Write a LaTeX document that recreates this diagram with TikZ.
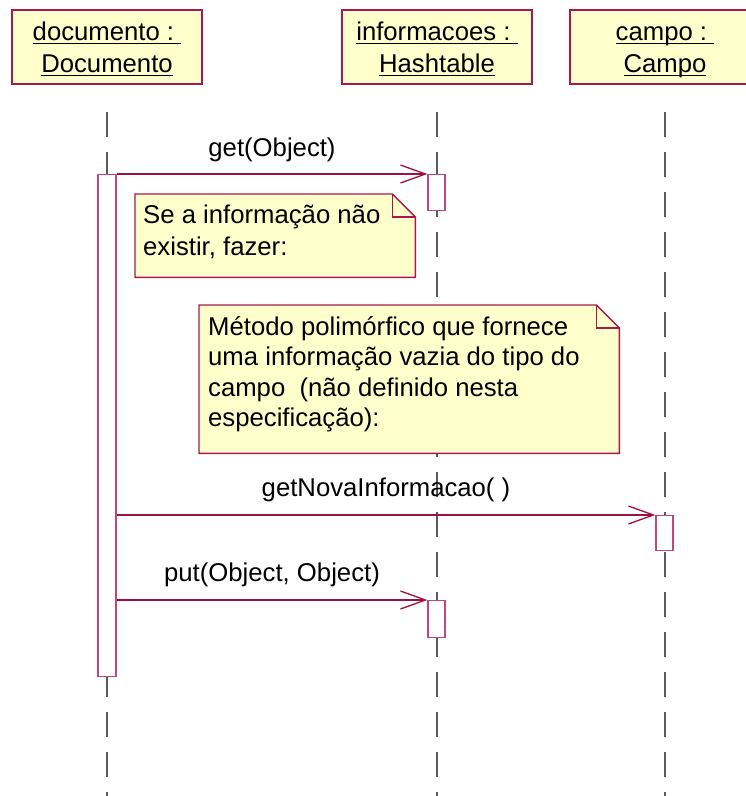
\documentclass[tikz,border=0pt]{standalone}
\usepackage{fontspec}
\setmainfont{Liberation Sans}
\usetikzlibrary{arrows.meta}
\definecolor{boxfill}{HTML}{FFFFCC}
\definecolor{boxline}{HTML}{A8184C}
\definecolor{msgline}{HTML}{A0103C}
\definecolor{actline}{HTML}{C04878}
\definecolor{lifeline}{HTML}{5A5A5A}
\newlength\ulwd
\newcommand\ulx[1]{\settowidth\ulwd{#1}\rlap{#1}\rule[-4pt]{\ulwd}{1.4pt}}
\begin{document}
\begin{tikzpicture}[x=1pt,y=-1pt,
  txt/.style={font=\fontsize{25.7}{31}\selectfont, inner sep=0pt},
  objbox/.style={draw=boxline, fill=boxfill, line width=1.4pt, minimum width=190pt, minimum height=74pt, inner sep=0pt},
  life/.style={draw=lifeline, line width=1.3pt, dash pattern=on 25pt off 15pt},
  act/.style={draw=actline, fill=white, line width=1.3pt, minimum width=17pt, inner sep=0pt, anchor=north},
  msg/.style={draw=msgline, line width=1.3pt, -{Straight Barb[length=25pt,width=18pt]}},
  notebox/.style={inner sep=0pt, anchor=north west},
  notepath/.style={draw=boxline, fill=boxfill, line width=1.4pt},
  fold/.style={draw=boxline, line width=1.4pt},
]
\useasboundingbox (0,0) rectangle (746,796);
\begin{scope}
\clip (0,0) rectangle (746,796);
% object boxes
\node[objbox] (doc) at (107,47) {};
\node[objbox] (inf) at (437,47) {};
\node[objbox] (cam) at (665,47) {};
\node[txt, anchor=base] (docA) at (107,40) {\ulx{documento :\ }};
\node[txt, anchor=base] (docB) at (107,72) {\ulx{Documento}};
\node[txt, anchor=base] (infA) at (437,40) {\ulx{informacoes :\ }};
\node[txt, anchor=base] (infB) at (437,72) {\ulx{Hashtable}};
\node[txt, anchor=base] (camA) at (665,40) {\ulx{campo :\ }};
\node[txt, anchor=base] (camB) at (665,72) {\ulx{Campo}};
% lifelines
\coordinate (docS) at (107,112); \coordinate (docE) at (107,796);
\coordinate (infS) at (437,112); \coordinate (infE) at (437,796);
\coordinate (camS) at (665,112); \coordinate (camE) at (665,796);
\draw[life] (docS) -- (docE);
\draw[life] (infS) -- (infE);
\draw[life] (camS) -- (camE);
% activations
\node[act, minimum height=502pt, minimum width=18pt] (dact) at (107,174) {};
\node[act, minimum height=36pt] (iact1) at (436.5,174) {};
\node[act, minimum height=35pt] (cact) at (664.5,515) {};
\node[act, minimum height=37pt] (iact2) at (436.5,600) {};
% notes
\node[notebox, minimum width=280pt, minimum height=83pt] (n1) at (135,194) {};
\draw[notepath] (n1.north west) -- ([xshift=-23pt]n1.north east) -- ([yshift=-23pt]n1.north east) -- (n1.south east) -- (n1.south west) -- cycle;
\draw[fold] ([xshift=-23pt]n1.north east) -- ++(0,23) -- ([yshift=-23pt]n1.north east);
\node[txt, anchor=base west] (n1a) at (143,223) {Se a informação não};
\node[txt, anchor=base west] (n1b) at (143,255) {existir, fazer:};
\node[notebox, minimum width=420pt, minimum height=148pt] (n2) at (199,305) {};
\draw[notepath] (n2.north west) -- ([xshift=-23pt]n2.north east) -- ([yshift=-23pt]n2.north east) -- (n2.south east) -- (n2.south west) -- cycle;
\draw[fold] ([xshift=-23pt]n2.north east) -- ++(0,23) -- ([yshift=-23pt]n2.north east);
\node[txt, anchor=base west] (n2a) at (208,335) {Método polimórfico que fornece};
\node[txt, anchor=base west] (n2b) at (208,365.5) {uma informação vazia do tipo do};
\node[txt, anchor=base west] (n2c) at (208,396) {campo\ \ (não definido nesta};
\node[txt, anchor=base west] (n2d) at (208,426) {especificação):};
% messages
\draw[msg] (dact.north east) -- (iact1.north west);
\node[txt, anchor=base] (m1) at (272,156) {get(Object)};
\draw[msg] (dact.east |- cact.north) -- (cact.north west);
\node[txt, anchor=base] (m2) at (386,496) {getNovaInformacao( )};
\draw[msg] (dact.east |- iact2.north) -- (iact2.north west);
\node[txt, anchor=base] (m3) at (272,581) {put(Object, Object)};
\end{scope}
\end{tikzpicture}
\end{document}
